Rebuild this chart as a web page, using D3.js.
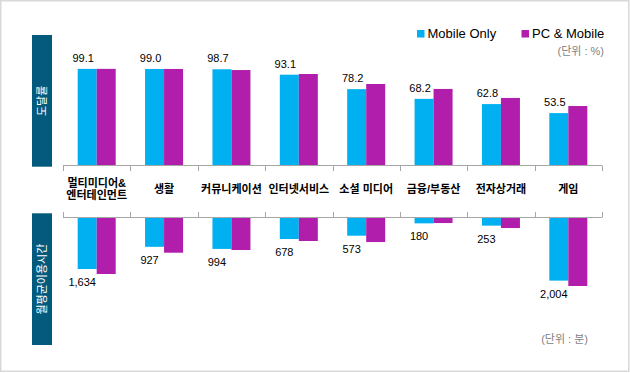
<!DOCTYPE html>
<html><head><meta charset="utf-8">
<script src="https://cdn.jsdelivr.net/npm/d3@7"></script>
<style>body{margin:0;background:#fff}svg{display:block}text{font-family:"Liberation Sans","Noto Sans CJK KR",sans-serif}</style>
</head><body>
<script>
const categories = [["멀티미디어&","엔터테인먼트"],["생활"],["커뮤니케이션"],["인터넷서비스"],["소셜 미디어"],["금융/부동산"],["전자상거래"],["게임"]];
const reachMobile = [99.1, 99.0, 98.7, 93.1, 78.2, 68.2, 62.8, 53.5];
const reachPC = [99.1, 99.0, 97.9, 93.8, 83.5, 78.4, 69.1, 60.8];
const timeMobile = [1634, 927, 994, 678, 573, 180, 253, 2004];
const timePC = [1793, 1115, 1029, 742, 775, 170, 329, 2175];
const seriesNames = ["Mobile Only", "PC & Mobile"];
const colors = ["#00B0F0", "#B01EAB"];
const fmt = d3.format(",");

const W = 630, H = 373;
const svg = d3.select("body").append("svg").attr("width", W).attr("height", H);
svg.append("rect").attr("x",0.75).attr("y",0.75).attr("width",628).attr("height",370.5)
  .attr("fill","#fff").attr("stroke","#d9d9d9").attr("stroke-width",1.5);

const keys = categories.map(c => c.join(""));
const x = d3.scaleBand().domain(keys).range([63, 602]);
const bw = 19;
const yTop = d3.scaleLinear().domain([0, 100]).range([165, 68]);
const yBot = d3.scaleLinear().domain([0, 2000]).range([217.7, 280.5]);

// side boxes
const boxes = [{y0:35,y1:166.7,t:"도달률"},{y0:213.3,y1:345,t:"월평균이용시간"}];
boxes.forEach(b=>{
  svg.append("rect").attr("x",32).attr("y",b.y0).attr("width",20).attr("height",b.y1-b.y0).attr("fill","#035A7C");
  svg.append("text").attr("transform",`translate(${42+4},${(b.y0+b.y1)/2}) rotate(-90)`)
    .attr("text-anchor","middle").attr("fill","#fff").attr("font-size",11).text(b.t);
});

// top bars
const gT = svg.append("g");
keys.forEach((k,i)=>{
  const cx = x(k) + x.bandwidth()/2;
  gT.append("rect").attr("x",cx-bw).attr("width",bw).attr("y",yTop(reachMobile[i])).attr("height",yTop(0)-yTop(reachMobile[i])).attr("fill",colors[0]);
  gT.append("rect").attr("x",cx).attr("width",bw).attr("y",yTop(reachPC[i])).attr("height",yTop(0)-yTop(reachPC[i])).attr("fill",colors[1]);
  gT.append("text").attr("x",cx-bw/2-4).attr("y",yTop(reachMobile[i])-7).attr("text-anchor","middle")
    .attr("font-size",11).attr("fill","#000").text(reachMobile[i].toFixed(1));
});
// bottom bars
keys.forEach((k,i)=>{
  const cx = x(k) + x.bandwidth()/2;
  gT.append("rect").attr("x",cx-bw).attr("width",bw).attr("y",yBot(0)).attr("height",yBot(timeMobile[i])-yBot(0)).attr("fill",colors[0]);
  gT.append("rect").attr("x",cx).attr("width",bw).attr("y",yBot(0)).attr("height",yBot(timePC[i])-yBot(0)).attr("fill",colors[1]);
  gT.append("text").attr("x",cx-bw/2-5).attr("y",yBot(timeMobile[i])+17).attr("text-anchor","middle")
    .attr("font-size",11).attr("fill","#000").text(fmt(timeMobile[i]));
});

// axes lines and ticks
const ax = "#a6a6a6";
const ticks = x.domain().map(k=>x(k)).concat([x.range()[1]]);
svg.append("line").attr("x1",63).attr("x2",602).attr("y1",165.5).attr("y2",165.5).attr("stroke",ax);
svg.append("line").attr("x1",63).attr("x2",602).attr("y1",217.5).attr("y2",217.5).attr("stroke",ax);
ticks.forEach(t=>{
  const tx = Math.round(t)+0.5;
  svg.append("line").attr("x1",tx).attr("x2",tx).attr("y1",165.5).attr("y2",171).attr("stroke",ax);
  svg.append("line").attr("x1",tx).attr("x2",tx).attr("y1",212).attr("y2",217.5).attr("stroke",ax);
});

// category labels
categories.forEach((c,i)=>{
  const cx = x(keys[i]) + x.bandwidth()/2;
  const t = svg.append("text").attr("text-anchor","middle").attr("font-size",11).attr("font-weight","bold").attr("fill","#000");
  const n = c.length;
  c.forEach((line,j)=>{
    t.append("tspan").attr("x",cx).attr("y",189 + 4 + (j-(n-1)/2)*12).text(line);
  });
});

// legend
const leg = [{x:417,t:seriesNames[0],c:colors[0]},{x:521.5,t:seriesNames[1],c:colors[1]}];
leg.forEach(l=>{
  svg.append("rect").attr("x",l.x).attr("y",30).attr("width",7.5).attr("height",7.5).attr("fill",l.c);
  svg.append("text").attr("x",l.x+10.5).attr("y",38).attr("font-size",13).attr("fill","#000").text(l.t);
});
svg.append("text").attr("x",604).attr("y",55).attr("text-anchor","end").attr("font-size",11).attr("fill","#7f7f7f").text("(단위 : %)");
svg.append("text").attr("x",588).attr("y",343).attr("text-anchor","end").attr("font-size",11).attr("fill","#7f7f7f").text("(단위 : 분)");
</script>
</body></html>
